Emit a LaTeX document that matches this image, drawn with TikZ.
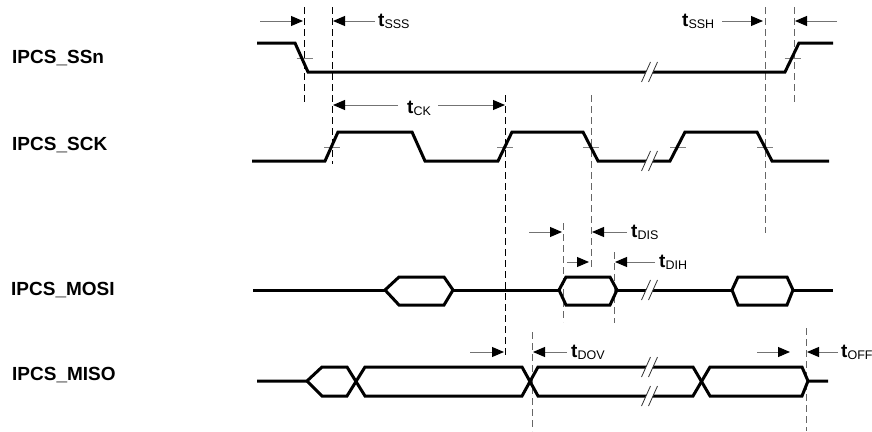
\documentclass[tikz,border=0pt]{standalone}
\usepackage{fontspec}
\setmainfont{Liberation Sans}
\usetikzlibrary{arrows.meta}

\tikzset{
  sig/.style={line width=3pt},
  guide/.style={dash pattern=on 7pt off 4pt, line width=0.9pt},
  meas/.style={black!55, line width=1pt, -{Triangle[black, length=12pt, width=10pt]}},
  edgetick/.style={black!50, line width=0.9pt},
  lbl/.style={font=\fontsize{19}{22}\selectfont\bfseries, anchor=base west, inner sep=0pt},
  tlbl/.style={font=\fontsize{19}{21}\selectfont\bfseries, anchor=base west, inner sep=0pt}
}
% timing parameter t with subscript
\newcommand{\tsub}[1]{t\raisebox{-2.5pt}{\fontsize{12.5}{13}\selectfont\mdseries #1}}
% break mark on a signal line
\newcommand{\brk}[2]{%
  \fill[white] (#1-4.5,#2+10) -- (#1+4.5,#2-10) -- (#1+11.5,#2-10) -- (#1+2.5,#2+10) -- cycle;
  \draw[black!80, line width=0.8pt] (#1-4.5,#2+10) -- (#1+4.5,#2-10);
  \draw[black!80, line width=0.8pt] (#1+2.5,#2+10) -- (#1+11.5,#2-10);
}

\begin{document}
\begin{tikzpicture}[x=1pt, y=-1pt]
\useasboundingbox (0,0) rectangle (872,431);

% signal names
\node[lbl] (ssn) at (12,63) {IPCS\_SSn};
\node[lbl] (sck) at (12,150) {IPCS\_SCK};
\node[lbl] (mosi) at (11,295) {IPCS\_MOSI};
\node[lbl] (miso) at (12,380) {IPCS\_MISO};

% dashed guides
\foreach \x/\a/\b in {304/7/105, 332/7/164, 505.7/95/357}
  \draw[guide, black] (\x,\a) -- (\x,\b);
\foreach \x/\a/\b in {765/7/233, 794/7/105, 591/95/270, 563/223/322, 614/252/323, 532/332/431, 806/328/431}
  \draw[guide, black!60] (\x,\a) -- (\x,\b);

% ticks on the edges
\foreach \x/\y in {304.5/58, 792.5/58, 332/147, 505/147, 591/147, 678/147, 765/147}
  \draw[edgetick] (\x-8,\y) -- (\x+8,\y);

% IPCS_SSn
\draw[sig] (257,43) -- (295,43) -- (308,72) -- (785,72) -- (799,43) -- (833,43);
\brk{646}{72}

% IPCS_SCK
\draw[sig] (252,161) -- (325,161) -- (338,132) -- (412,132) -- (425,161) -- (498,161)
  -- (512,132) -- (583,132) -- (598,161) -- (670,161) -- (685,132) -- (757,132)
  -- (772,161) -- (829,161);
\brk{646}{161}

% IPCS_MOSI
\draw[sig] (253,290) -- (385,290);
\draw[sig] (385,290) -- (399,277) -- (444,277) -- (453,290) -- (444,305) -- (399,305) -- cycle;
\draw[sig] (453,290) -- (559,290);
\draw[sig] (559,290) -- (566,277) -- (610,277) -- (617,290) -- (610,305) -- (566,305) -- cycle;
\draw[sig] (617,290) -- (732,290);
\draw[sig] (732,290) -- (738,277) -- (787,277) -- (793,290) -- (787,305) -- (738,305) -- cycle;
\draw[sig] (793,290) -- (833,290);
\brk{646}{290}

% IPCS_MISO
\draw[sig] (257,381) -- (307,381) -- (322,367) -- (347,367) -- (365,396) -- (522,396) -- (538,367)
  -- (693,367) -- (710,396) -- (802,396) -- (808,381) -- (828,381);
\draw[sig] (307,381) -- (322,396) -- (347,396) -- (365,367) -- (522,367) -- (538,396)
  -- (693,396) -- (710,367) -- (802,367) -- (808,381);
\brk{646}{367}
\brk{646}{396}

% timing arrows
\foreach \a/\b/\y in {260/303/21, 375/333/21, 722/763/21, 837/795/21, 398/333/105, 438/505/105,
  529/562/232, 627/592/232, 567/589/262, 655/615/262, 470/504/352, 567/533/352, 757/790/352, 838/807/352}
  \draw[meas] (\a,\y) -- (\b,\y);

% timing labels
\node[tlbl] (tsss) at (378,26) {\tsub{SSS}};
\node[tlbl] (tssh) at (682,26) {\tsub{SSH}};
\node[tlbl] (tck) at (407,113) {\tsub{CK}};
\node[tlbl] (tdis) at (631,237) {\tsub{DIS}};
\node[tlbl] (tdih) at (659,267) {\tsub{DIH}};
\node[tlbl] (tdov) at (571,357) {\tsub{DOV}};
\node[tlbl] (toff) at (841,357) {\tsub{OFF}};
\end{tikzpicture}
\end{document}
